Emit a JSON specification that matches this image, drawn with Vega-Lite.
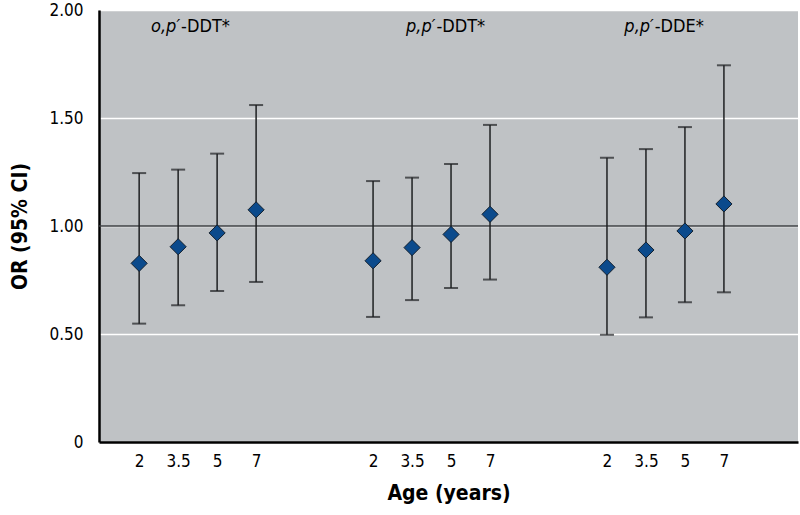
{
  "$schema": "https://vega.github.io/schema/vega-lite/v6.json",
  "width": 699,
  "height": 432,
  "autosize": {"type": "none"},
  "padding": {"left": 99, "top": 10, "right": 2, "bottom": 73},
  "background": "white",
  "config": {
    "view": {"fill": "#BFC2C5", "stroke": null},
    "font": "DejaVu Sans Condensed, Roboto, sans-serif"
  },
  "datasets": {
    "pts": [
      {"compound": "o,p′-DDT", "age": "2", "xi": 0, "or": 0.827, "lo": 0.548, "hi": 1.245},
      {"compound": "o,p′-DDT", "age": "3.5", "xi": 1, "or": 0.904, "lo": 0.633, "hi": 1.261},
      {"compound": "o,p′-DDT", "age": "5", "xi": 2, "or": 0.968, "lo": 0.699, "hi": 1.335},
      {"compound": "o,p′-DDT", "age": "7", "xi": 3, "or": 1.075, "lo": 0.741, "hi": 1.56},
      {"compound": "p,p′-DDT", "age": "2", "xi": 6, "or": 0.839, "lo": 0.579, "hi": 1.208},
      {"compound": "p,p′-DDT", "age": "3.5", "xi": 7, "or": 0.9, "lo": 0.657, "hi": 1.224},
      {"compound": "p,p′-DDT", "age": "5", "xi": 8, "or": 0.961, "lo": 0.713, "hi": 1.287},
      {"compound": "p,p′-DDT", "age": "7", "xi": 9, "or": 1.054, "lo": 0.752, "hi": 1.468},
      {"compound": "p,p′-DDE", "age": "2", "xi": 12, "or": 0.809, "lo": 0.497, "hi": 1.316},
      {"compound": "p,p′-DDE", "age": "3.5", "xi": 13, "or": 0.889, "lo": 0.577, "hi": 1.356},
      {"compound": "p,p′-DDE", "age": "5", "xi": 14, "or": 0.977, "lo": 0.647, "hi": 1.458},
      {"compound": "p,p′-DDE", "age": "7", "xi": 15, "or": 1.102, "lo": 0.693, "hi": 1.744}
    ],
    "labels": [
      {"italic": "o,p′", "rest": "-DDT*", "xi": 1.05, "y": 1.92},
      {"italic": "p,p′", "rest": "-DDT*", "xi": 7.6, "y": 1.92},
      {"italic": "p,p′", "rest": "-DDE*", "xi": 13.2, "y": 1.92}
    ]
  },
  "layer": [
    {
      "data": {"values": [{"ref": 1}]},
      "mark": {"type": "rule", "color": "#3a3d40", "strokeWidth": 1.5},
      "encoding": {"y": {"field": "ref", "type": "quantitative", "scale": {"domain": [0, 2]}}}
    },
    {
      "data": {"name": "pts"},
      "mark": {"type": "rule", "color": "#1e2022", "strokeWidth": 1.5},
      "encoding": {
        "x": {
          "field": "xi", "type": "quantitative",
          "scale": {"domain": [-1.03, 16.9], "nice": false, "zero": false},
          "axis": {
            "title": "Age (years)",
            "titleFontSize": 21, "titleFontWeight": "bold", "titleColor": "black",
            "titlePadding": 13,
            "values": [0, 1, 2, 3, 6, 7, 8, 9, 12, 13, 14, 15],
            "labelExpr": "[ '2','3.5','5','7' ][datum.value % 6]",
            "labelFontSize": 17, "labelColor": "black", "labelPadding": 11,
            "ticks": false, "grid": false,
            "domainColor": "black", "domainWidth": 2.5
          }
        },
        "y": {
          "field": "lo", "type": "quantitative",
          "scale": {"domain": [0, 2], "nice": false},
          "axis": {
            "title": "OR (95% CI)",
            "titleFontSize": 21, "titleFontWeight": "bold", "titleColor": "black",
            "titlePadding": 18,
            "values": [0, 0.5, 1, 1.5, 2],
            "labelExpr": "datum.value == 0 ? '0' : format(datum.value, '.2f')",
            "labelFontSize": 17, "labelColor": "black", "labelPadding": 16,
            "ticks": false,
            "grid": true, "gridColor": "#ffffff", "gridWidth": 1.5,
            "domainColor": "black", "domainWidth": 2.5
          }
        },
        "y2": {"field": "hi"}
      }
    },
    {
      "data": {"name": "pts"},
      "mark": {"type": "tick", "orient": "horizontal", "color": "#1e2022", "size": 14, "thickness": 2},
      "encoding": {
        "x": {"field": "xi", "type": "quantitative"},
        "y": {"field": "lo", "type": "quantitative"}
      }
    },
    {
      "data": {"name": "pts"},
      "mark": {"type": "tick", "orient": "horizontal", "color": "#1e2022", "size": 14, "thickness": 2},
      "encoding": {
        "x": {"field": "xi", "type": "quantitative"},
        "y": {"field": "hi", "type": "quantitative"}
      }
    },
    {
      "data": {"name": "pts"},
      "mark": {"type": "point", "shape": "diamond", "filled": true, "size": 260, "color": "#0B4A8C", "stroke": "#13202e", "strokeWidth": 1, "opacity": 1},
      "encoding": {
        "x": {"field": "xi", "type": "quantitative"},
        "y": {"field": "or", "type": "quantitative"}
      }
    },
    {
      "data": {"name": "labels"},
      "mark": {"type": "text", "align": "right", "baseline": "middle", "fontSize": 18, "fontStyle": "italic", "color": "black"},
      "encoding": {
        "x": {"field": "xi", "type": "quantitative"},
        "y": {"field": "y", "type": "quantitative"},
        "text": {"field": "italic"}
      }
    },
    {
      "data": {"name": "labels"},
      "mark": {"type": "text", "align": "left", "baseline": "middle", "fontSize": 18, "color": "black", "dx": 1},
      "encoding": {
        "x": {"field": "xi", "type": "quantitative"},
        "y": {"field": "y", "type": "quantitative"},
        "text": {"field": "rest"}
      }
    }
  ]
}
